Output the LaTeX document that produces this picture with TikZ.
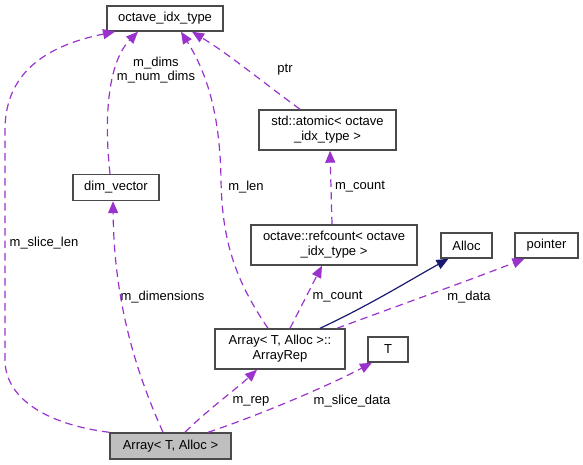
\documentclass[tikz,border=0pt]{standalone}
\usepackage{fontspec}
\setmainfont{Liberation Sans}
\usetikzlibrary{arrows.meta}
\definecolor{edgepurple}{HTML}{9A32CD}
\definecolor{edgenavy}{HTML}{191970}
\definecolor{boxline}{HTML}{4A4A4A}
\definecolor{boxgray}{HTML}{BFBFBF}
\tikzset{
  cls/.style={draw=boxline, line width=1.4pt, fill=white, inner sep=0pt, align=center,
    font=\fontsize{13}{15}\selectfont},
  lbl/.style={inner sep=0pt, align=center, font=\fontsize{13}{14}\selectfont},
  usage/.style={draw=edgepurple, line width=1.2pt, dash pattern=on 7.5pt off 5pt,
    -{Triangle[length=12pt,width=10pt]}, fill=none},
  inherit/.style={draw=edgenavy, line width=1.2pt, -{Triangle[length=12pt,width=10pt]}}
}
\begin{document}
\begin{tikzpicture}[x=1pt,y=-1pt]
\useasboundingbox (0,0) rectangle (583,465);
% nodes
\node[cls, minimum width=116pt, minimum height=25pt] (idx) at (165,18.5) {octave\_idx\_type};
\node[cls, minimum width=137pt, minimum height=40pt] (atomic) at (327.5,130) {std::atomic< octave\\\_idx\_type >};
\node[cls, minimum width=86pt, minimum height=26pt] (dimv) at (116,187.5) {dim\_vector};
\node[cls, minimum width=166pt, minimum height=40pt] (refc) at (334,245) {octave::refcount< octave\\\_idx\_type >};
\node[cls, minimum width=51pt, minimum height=25pt] (alloc) at (466.5,245.5) {Alloc};
\node[cls, minimum width=63pt, minimum height=25pt] (pointer) at (546.5,245.5) {pointer};
\node[cls, minimum width=130pt, minimum height=40pt] (rep) at (280,349) {Array< T, Alloc >::\\ArrayRep};
\node[cls, minimum width=40pt, minimum height=25pt] (T) at (388,349.5) {T};
\node[cls, fill=boxgray, minimum width=121pt, minimum height=26pt] (arr) at (170.5,446) {Array< T, Alloc >};

% edges
\draw[usage] (arr.north west) .. controls (50,425) and (5,400) .. (5,360)
   -- (5,130) .. controls (5,70) and (50,45) .. ([xshift=-50pt]idx.south);
\draw[usage] (dimv.north) ++(-6pt,0) .. controls (103,110) and (110,60) .. ([xshift=-27pt]idx.south);
\draw[usage] ([xshift=-7.5pt]arr.north) .. controls (135,370) and (114,300) .. ([xshift=-3pt]dimv.south);
\draw[usage] ([xshift=-12pt]rep.north) .. controls (235,280) and (222,240) .. (221,180)
   .. controls (220,110) and (205,70) .. ([xshift=16pt]idx.south);
\draw[usage] ([xshift=-27.5pt]atomic.north) .. controls (260,80) and (230,55) .. ([xshift=27pt]idx.south);
\draw[usage] ([xshift=-2pt]refc.north) -- ([xshift=2.5pt]atomic.south);
\draw[usage] ([xshift=10pt]rep.north) -- ([xshift=-12pt]refc.south);
\draw[inherit] ([xshift=40pt]rep.north) .. controls (370,305) and (410,280) .. ([xshift=-18pt]alloc.south);
\draw[usage] ([xshift=57pt]rep.north) .. controls (400,305) and (470,280) .. ([xshift=-22pt]pointer.south);
\draw[usage] ([xshift=14.5pt]arr.north) .. controls (205,412) and (235,390) .. ([xshift=-23pt]rep.south);
\draw[usage] ([xshift=37.5pt]arr.north) .. controls (260,415) and (330,385) .. ([xshift=-16pt]T.south);

% labels
\node[lbl] (l1) at (44,243) {m\_slice\_len};
\node[lbl] (l2) at (156,70) {m\_dims\\m\_num\_dims};
\node[lbl] (l3) at (285,70) {ptr};
\node[lbl] (l4) at (246,187) {m\_len};
\node[lbl] (l5) at (360,187) {m\_count};
\node[lbl] (l6) at (162.5,297) {m\_dimensions};
\node[lbl] (l7) at (337.5,297) {m\_count};
\node[lbl] (l8) at (469,297) {m\_data};
\node[lbl] (l9) at (251,401) {m\_rep};
\node[lbl] (l10) at (352,401) {m\_slice\_data};
\end{tikzpicture}
\end{document}
